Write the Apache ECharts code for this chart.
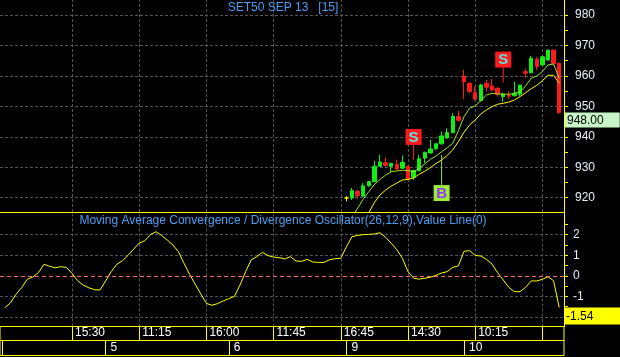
<!DOCTYPE html>
<html><head><meta charset="utf-8">
<script src="https://cdn.jsdelivr.net/npm/echarts@6/dist/echarts.min.js"></script>
<style>html,body{margin:0;padding:0;background:#000;}#c{width:620px;height:357px;}</style>
</head><body><div id="c"></div>
<script>
// ---- data (bar index 0..99, 15-minute bars) ----
const firstCandle = 61;
const opens  = [919.9,919.9,922.1,920.5,923.9,925.3,930.3,931.5,930.3,930.9,929.7,930.3,926.7,928.9,933.0,934.7,936.1,937.7,939.6,941.4,946.7,959.8,957.6,954.5,951.9,957.6,956.7,956.0,953.2,953.7,953.5,954.0,961.4,961.0,965.5,963.6,965.2,968.5,964.1];
const closes = [919.9,922.3,920.7,923.9,925.3,930.3,931.7,930.6,931.3,929.4,931.6,926.1,928.9,932.8,934.9,936.0,937.7,940.3,941.4,946.7,945.4,958.1,954.9,952.4,957.0,956.3,955.4,954.0,954.0,953.3,954.3,957.0,960.9,965.8,963.1,966.3,968.5,964.1,948.0];
const lows   = [918.8,919.3,919.6,920.3,923.6,925.0,930.1,930.1,928.3,929.2,929.4,925.9,925.9,928.6,931.4,934.4,935.7,937.4,939.3,941.2,945.0,952.4,954.3,951.9,951.6,954.9,954.9,953.2,951.6,952.4,953.2,953.4,959.4,960.9,962.0,963.3,964.9,963.6,947.5];
const highs  = [920.5,923.2,922.6,924.8,925.3,932.1,934.1,933.2,931.3,932.5,933.9,930.6,929.2,934.1,935.1,939.0,937.7,941.7,942.8,947.8,948.5,962.0,957.9,956.5,957.4,958.7,959.0,956.0,954.5,954.9,958.1,957.0,962.2,966.6,966.3,966.6,968.5,968.5,964.5];
const fastMaStart = 62;
const fastMa = [913.8,916.5,919.5,922.0,924.3,926.0,927.4,928.5,928.8,929.0,928.9,928.5,929.6,931.1,932.6,933.7,935.1,936.4,937.9,942.0,946.6,949.4,950.1,951.9,953.7,954.3,954.1,954.0,954.0,954.2,954.8,956.7,959.2,960.0,961.4,963.6,963.9,959.2];
const slowMaStart = 64;
const slowMa = [911.8,915.1,918.4,920.9,922.5,923.8,924.8,925.8,926.0,926.5,927.7,928.7,929.9,931.2,932.4,933.9,935.7,938.4,941.5,943.9,945.5,947.5,948.8,949.9,950.7,951.0,951.4,952.1,953.2,954.5,955.8,956.9,958.4,960.2,960.2,957.6];
const macd = [
 -1.55,-1.32,-0.90,-0.58,-0.17,-0.06,0.15,0.56,0.46,0.39,
 0.44,0.41,0.12,-0.24,-0.45,-0.58,-0.67,-0.69,-0.25,0.20,
 0.56,0.73,0.99,1.29,1.59,1.70,2.00,2.14,1.96,1.74,
 1.50,1.17,0.61,0.07,-0.41,-0.88,-1.34,-1.43,-1.35,-1.22,
 -1.11,-1.00,-0.45,0.20,0.77,0.93,1.14,0.98,0.91,0.88,
 0.82,0.93,0.72,0.70,0.80,0.67,0.65,0.65,0.78,0.83,
 0.85,1.41,1.90,1.96,2.00,2.01,2.03,2.09,1.87,1.58,
 1.27,0.85,0.20,-0.12,-0.16,-0.12,-0.07,0.02,0.14,0.20,
 0.41,0.48,1.19,1.22,0.99,0.96,0.80,0.57,0.15,-0.20,
 -0.56,-0.77,-0.77,-0.56,-0.25,-0.25,-0.17,-0.04,-0.24,-1.54];
const timeTickIdx = [12,24,36,48,60,72,84,96];
const timeTickLabels = ['15:30','11:15','16:00','11:45','16:45','14:30','10:15',''];
const dayTickIdx = [18,40,61,82];
const dayTickLabels = ['5','6','9','10'];
const priceLabels = [920,930,940,950,960,970,980];
const priceTickMarks = [920,925,930,935,940,945,950,955,960,965,970,975,980];
const macdLabels = [-1,0,1,2];
const macdTickMarks = [-2,-1.5,-1,-0.5,0,0.5,1,1.5,2,2.5];
const macdGrid = [-2,-1,1,2];
const sellIdx = [73,89];
const sellPrice = [932.4,957.8];
const buyIdx = [78];
const buyPrice = [934.0];
const lastPrice = 948.00;
const lastMacd = -1.54;
const chartTitle = 'SET50 SEP 13   [15]';
const macdTitle = 'Moving Average Convergence / Divergence Oscillator(26,12,9),Value Line(0)';

// ---- chart ----
const FONT = 'Liberation Sans';
const X_MIN = -0.857, X_MAX = 99.857;
const GRIDC = '#555555';
const YEL = '#ffff00';
const LBL = '#e8f0ff';
const NOLINE = 'rgba(0,0,0,0)';

function xBase(gi, extra) {
  return Object.assign({
    gridIndex: gi, type: 'value', min: X_MIN, max: X_MAX,
    axisLine: { show: false, onZero: false },
    axisLabel: { show: false }, splitLine: { show: false }
  }, extra);
}
function hiddenY(gi) {
  return { gridIndex: gi, type: 'value', min: 0, max: 1, show: false };
}

const chart = echarts.init(document.getElementById('c'), null, { renderer: 'canvas' });
chart.setOption({
  backgroundColor: '#000',
  animation: false,
  textStyle: { fontFamily: FONT },
  title: [
    { text: chartTitle, left: 283, top: 2, textAlign: 'center', padding: 0,
      textStyle: { color: '#4a9ff5', fontSize: 12, fontWeight: 'normal', fontFamily: FONT } },
    { text: macdTitle, left: 283, top: 215, textAlign: 'center', padding: 0,
      textStyle: { color: '#4a9ff5', fontSize: 12, fontWeight: 'normal', fontFamily: FONT } }
  ],
  grid: [
    { left: 0, top: 0, width: 564, height: 212 },
    { left: 0, top: 212, width: 564, height: 114.5 },
    { left: 0, top: 326.5, width: 564, height: 14, show: true, borderColor: YEL, borderWidth: 1, backgroundColor: 'transparent' },
    { left: 0, top: 340.5, width: 564, height: 15, show: true, borderColor: YEL, borderWidth: 1, backgroundColor: 'transparent' }
  ],
  xAxis: [
    xBase(0, { position: 'bottom', axisLine: { show: true, onZero: false, lineStyle: { color: YEL } },
      axisTick: { show: true, inside: true, length: 212, customValues: timeTickIdx, lineStyle: { color: GRIDC, type: [3, 2] } } }),
    xBase(1, { position: 'bottom',
      axisTick: { show: true, inside: true, length: 114.5, customValues: timeTickIdx, lineStyle: { color: GRIDC, type: [3, 2] } } }),
    xBase(2, { position: 'top',
      axisTick: { show: true, inside: true, length: 14, customValues: timeTickIdx, lineStyle: { color: YEL } },
      axisLabel: { show: true, inside: true, margin: 0, customValues: timeTickIdx.slice(0, 7), align: 'left', padding: [0, 0, 0, 3],
        color: '#ffffff', fontSize: 12, fontFamily: FONT,
        formatter: v => timeTickLabels[timeTickIdx.indexOf(v)] } }),
    xBase(3, { position: 'top',
      axisTick: { show: true, inside: true, length: 15, customValues: [-0.5].concat(dayTickIdx), lineStyle: { color: YEL } },
      axisLabel: { show: true, inside: true, margin: 1, customValues: dayTickIdx, align: 'left', padding: [0, 0, 0, 5],
        color: '#ffffff', fontSize: 12, fontFamily: FONT,
        formatter: v => dayTickLabels[dayTickIdx.indexOf(v)] } })
  ],
  yAxis: [
    { gridIndex: 0, type: 'value', position: 'right', min: 915.30, max: 984.93,
      axisLine: { show: true, onZero: false, lineStyle: { color: YEL } },
      axisTick: { show: true, length: 4, customValues: priceTickMarks, lineStyle: { color: YEL } },
      axisLabel: { show: true, margin: 11, customValues: priceLabels, color: LBL, fontSize: 12, fontFamily: FONT },
      splitLine: { show: false } },
    { gridIndex: 0, type: 'value', position: 'left', min: 915.30, max: 984.93,
      axisLine: { show: false, onZero: false }, axisLabel: { show: false }, splitLine: { show: false },
      axisTick: { show: true, inside: true, length: 564, customValues: priceLabels, lineStyle: { color: GRIDC, type: [3, 2] } } },
    { gridIndex: 1, type: 'value', position: 'right', min: -2.461, max: 3.097,
      axisLine: { show: true, onZero: false, lineStyle: { color: YEL } },
      axisTick: { show: true, length: 4, customValues: macdTickMarks, lineStyle: { color: YEL } },
      axisLabel: { show: true, margin: 9, customValues: macdLabels, color: LBL, fontSize: 12, fontFamily: FONT },
      splitLine: { show: false } },
    { gridIndex: 1, type: 'value', position: 'left', min: -2.461, max: 3.097,
      axisLine: { show: false, onZero: false }, axisLabel: { show: false }, splitLine: { show: false },
      axisTick: { show: true, inside: true, length: 564, customValues: macdGrid, lineStyle: { color: GRIDC, type: [3, 2] } } },
    hiddenY(2), hiddenY(3)
  ],
  series: [
    { type: 'candlestick', xAxisIndex: 0, yAxisIndex: 0, barWidth: 4, z: 3, clip: false,
      data: opens.map((o, k) => [firstCandle + k, o, closes[k], lows[k], highs[k]]),
      itemStyle: { color: '#11ee11', color0: '#ff1a1a', borderColor: '#11ee11', borderColor0: '#ff1a1a', borderColorDoji: YEL, borderWidth: 1 },
      markLine: { silent: true, symbol: ['none', 'none'], animation: false,
        data: [{ yAxis: lastPrice }],
        lineStyle: { color: NOLINE, width: 1 },
        label: { show: true, position: 'end', distance: 1, formatter: lastPrice.toFixed(2),
          backgroundColor: '#c8f5c8', color: '#000', fontSize: 12, fontFamily: FONT,
          padding: [2, 16, 1, 2], verticalAlign: 'top' } } },
    { type: 'line', xAxisIndex: 0, yAxisIndex: 0, showSymbol: false, z: 4,
      data: fastMa.map((v, k) => [fastMaStart + k, v]),
      lineStyle: { color: '#9ee22a', width: 1 } },
    { type: 'line', xAxisIndex: 0, yAxisIndex: 0, showSymbol: false, z: 4,
      data: slowMa.map((v, k) => [slowMaStart + k, v]),
      lineStyle: { color: YEL, width: 1 } },
    { type: 'custom', xAxisIndex: 0, yAxisIndex: 0, z: 6,
      data: sellIdx.map((x, k) => [x, sellPrice[k]]),
      renderItem: (params, api) => {
        const p = api.coord([api.value(0), api.value(1)]);
        return { type: 'group', children: [
          { type: 'line', shape: { x1: p[0], y1: p[1], x2: p[0], y2: p[1] - 15 }, style: { stroke: '#ff2020', lineWidth: 1 } },
          { type: 'rect', shape: { x: p[0] - 8, y: p[1] - 31, width: 16, height: 16 }, style: { fill: '#ff1a1a' } },
          { type: 'text', style: { text: 'S', x: p[0], y: p[1] - 22.5, align: 'center', verticalAlign: 'middle', fill: '#5fe0e0', font: 'bold 15px "Liberation Sans"' } }
        ] };
      } },
    { type: 'custom', xAxisIndex: 0, yAxisIndex: 0, z: 6,
      data: buyIdx.map((x, k) => [x, buyPrice[k]]),
      renderItem: (params, api) => {
        const p = api.coord([api.value(0), api.value(1)]);
        return { type: 'group', children: [
          { type: 'line', shape: { x1: p[0], y1: p[1], x2: p[0], y2: p[1] + 30 }, style: { stroke: '#99e033', lineWidth: 1 } },
          { type: 'rect', shape: { x: p[0] - 8, y: p[1] + 30, width: 16, height: 16 }, style: { fill: '#99ee33' } },
          { type: 'text', style: { text: 'B', x: p[0], y: p[1] + 38.5, align: 'center', verticalAlign: 'middle', fill: '#9933ff', font: 'bold 15px "Liberation Sans"' } }
        ] };
      } },
    { type: 'line', xAxisIndex: 1, yAxisIndex: 2, showSymbol: false, z: 4, clip: false,
      data: macd.map((v, i) => [i, v]),
      lineStyle: { color: YEL, width: 1 },
      markLine: { silent: true, symbol: ['none', 'none'], animation: false,
        data: [
          { yAxis: 0, lineStyle: { color: '#ff6a6a', type: [4, 3], width: 1 }, label: { show: false } },
          { yAxis: lastMacd, lineStyle: { color: NOLINE, width: 1 },
            label: { show: true, position: 'end', distance: 1, formatter: lastMacd.toFixed(2),
              backgroundColor: YEL, color: '#000', fontSize: 12, fontFamily: FONT,
              padding: [3, 27, 2, 1], verticalAlign: 'top' } }
        ] } }
  ]
});
</script>
</body></html>
